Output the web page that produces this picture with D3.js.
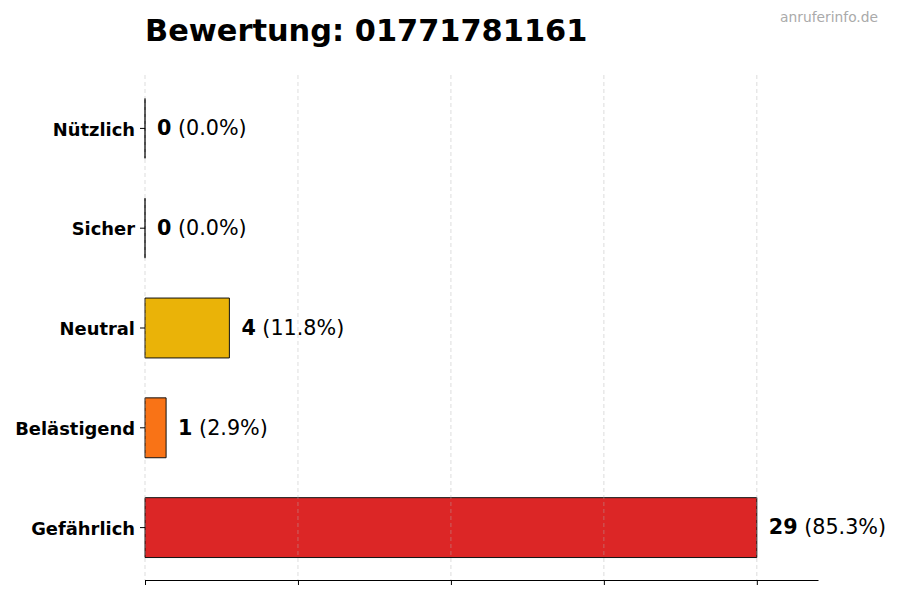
<!DOCTYPE html>
<meta charset="utf-8">
<script src="https://d3js.org/d3.v7.min.js"></script>
<style>
  body { margin: 0; background: #fff; }
  text { font-family: "DejaVu Sans", sans-serif; }
</style>
<div id="chart"></div>
<script>
    // data
    const categories = ["Gefährlich", "Belästigend", "Neutral", "Sicher", "Nützlich"];
    const counts = [29, 1, 4, 0, 0];
    const colors = ["#dc2626", "#f97316", "#eab308", "#22c55e", "#3b82f6"];
    const total = d3.sum(counts);
    const maxCount = d3.max(counts);
    const tickValues = d3.range(0, 5).map(i => i * maxCount / 4);

    const width = 900, height = 600;
    const margin = { top: 75, right: 82, bottom: 20, left: 145 };

    const svg = d3.select("#chart")
        .append("svg")
        .attr("width", width)
        .attr("height", height);

    const x = d3.scaleLinear()
        .domain([0, maxCount * 1.1])
        .range([margin.left, width - margin.right]);

    // index 0 at bottom
    const y = d3.scaleLinear()
        .domain([-0.53, categories.length - 1 + 0.53])
        .range([height - margin.bottom, margin.top]);

    const barH = 0.6;
    const bh = y(0) - y(barH);

    const data = categories.map((c, i) => ({ name: c, value: counts[i], color: colors[i], i: i }));

    // bars (path so that 0-width bars still show their edge)
    svg.append("g")
        .selectAll("path")
        .data(data)
        .join("path")
        .attr("d", d => {
            const p = d3.path();
            p.rect(x(0), y(d.i) - bh / 2 + 0.5, x(d.value) - x(0), bh);
            return p.toString();
        })
        .attr("fill", d => d.color)
        .attr("stroke", "#111")
        .attr("stroke-width", 1);

    // grid on top
    svg.append("g")
        .selectAll("line")
        .data(tickValues)
        .join("line")
        .attr("x1", d => x(d)).attr("x2", d => x(d))
        .attr("y1", margin.top).attr("y2", height - margin.bottom)
        .attr("stroke", "#b0b0b0")
        .attr("stroke-opacity", 0.55)
        .attr("stroke-width", 0.8)
        .attr("stroke-dasharray", "4,3");

    // bottom axis, no labels
    svg.append("g")
        .attr("transform", `translate(0,${height - margin.bottom})`)
        .call(d3.axisBottom(x).tickValues(tickValues).tickFormat("").tickSize(5).tickSizeOuter(0))
        .call(g => g.selectAll("line, path").attr("stroke", "#000").attr("stroke-width", 1));

    // left ticks + labels
    const yAxis = svg.append("g")
        .attr("transform", `translate(${margin.left},0)`)
        .call(d3.axisLeft(y).tickValues(d3.range(categories.length))
            .tickFormat(i => categories[i]).tickSize(5).tickPadding(5));
    yAxis.select(".domain").remove();
    yAxis.selectAll("text")
        .style("font-family", "'DejaVu Sans', sans-serif")
        .style("font-size", "17.9px")
        .style("font-weight", "bold")
        .attr("dy", "0.4em")
        .attr("fill", "#000");

    // value labels
    const lab = svg.append("g")
        .selectAll("text")
        .data(data)
        .join("text")
        .attr("x", d => x(d.value) + 12)
        .attr("y", d => y(d.i))
        .attr("dy", "0.35em")
        .style("font-size", "20.7px")
        .attr("fill", "#000");
    lab.append("tspan").style("font-weight", "bold").text(d => d.value);
    lab.append("tspan").text(d => " (" + (d.value / total * 100).toFixed(1) + "%)");

    // title
    svg.append("text")
        .attr("x", margin.left)
        .attr("y", 41)
        .style("font-size", "30.4px")
        .style("font-weight", "bold")
        .text("Bewertung: 01771781161");

    // watermark
    svg.append("text")
        .attr("x", 878)
        .attr("y", 22)
        .attr("text-anchor", "end")
        .style("font-size", "13.8px")
        .attr("fill", "#aaaaaa")
        .text("anruferinfo.de");
</script>
